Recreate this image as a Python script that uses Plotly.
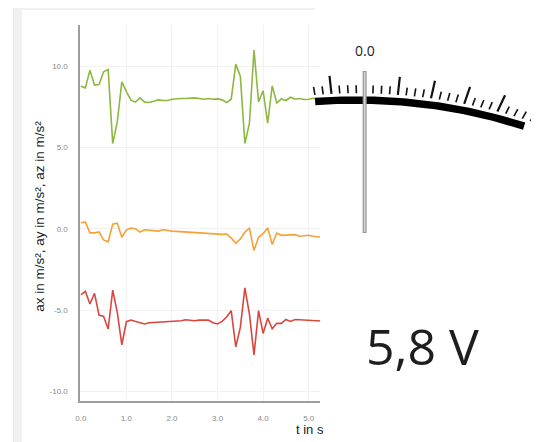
import numpy as np
import plotly.graph_objects as go

# ---------------- data ----------------
t_s = [0.0, 0.1, 0.2, 0.3, 0.4, 0.5, 0.6, 0.7, 0.8, 0.9,
       1.0, 1.1, 1.2, 1.3, 1.4, 1.5, 1.6, 1.7, 1.8, 1.9,
       2.0, 2.1, 2.2, 2.3, 2.4, 2.5, 2.6, 2.7, 2.8, 2.9,
       3.0, 3.1, 3.2, 3.3, 3.4, 3.5, 3.6, 3.7, 3.8, 3.9,
       4.0, 4.1, 4.2, 4.3, 4.4, 4.5, 4.6, 4.7, 4.8, 4.9,
       5.0, 5.1, 5.2, 5.3]

az = [8.78, 8.68, 9.77, 8.85, 8.89, 9.67, 9.81, 5.25, 6.58, 9.05,
      8.45, 7.92, 7.80, 8.06, 7.80, 7.78, 7.85, 7.94, 7.90, 7.90,
      7.98, 8.02, 8.02, 8.02, 8.04, 8.06, 8.02, 7.98, 8.02, 7.98,
      8.00, 7.94, 7.78, 7.98, 10.14, 9.40, 5.25, 6.50, 11.00, 7.82,
      8.50, 6.50, 8.80, 7.75, 8.00, 7.90, 8.10, 7.98, 8.02, 7.96,
      7.98, 8.04, 7.96, 8.00]

ay = [0.37, 0.41, -0.25, -0.25, -0.19, -0.68, -0.80, 0.28, 0.35, -0.52,
      -0.06, 0.04, 0.00, -0.20, -0.06, -0.10, -0.10, -0.14, -0.06, -0.12,
      -0.14, -0.16, -0.18, -0.22, -0.22, -0.26, -0.28, -0.30, -0.30, -0.32,
      -0.34, -0.34, -0.32, -0.56, -0.89, -0.62, -0.20, 0.04, -1.34, -0.52,
      -0.30, 0.06, -0.97, -0.26, -0.40, -0.38, -0.40, -0.36, -0.46, -0.44,
      -0.40, -0.46, -0.50, -0.46]

ax = [-4.07, -3.85, -4.63, -3.97, -5.31, -5.39, -6.17, -3.77, -5.15, -7.14,
      -5.72, -5.62, -5.70, -5.76, -5.86, -5.78, -5.76, -5.78, -5.74, -5.74,
      -5.70, -5.66, -5.66, -5.60, -5.62, -5.66, -5.62, -5.60, -5.62, -5.78,
      -5.86, -5.70, -5.43, -5.04, -7.27, -6.07, -3.64, -5.25, -7.76, -5.04,
      -6.44, -5.50, -6.15, -5.82, -5.82, -5.58, -5.70, -5.58, -5.60, -5.62,
      -5.66, -5.66, -5.68, -5.68]

x_tickvals = [0, 1, 2, 3, 4, 5]
x_ticktext = ["0.0", "1.0", "2.0", "3.0", "4.0", "5.0"]
y_tickvals = [-10, -5, 0, 5, 10]
y_ticktext = ["-10.0", "-5.0", "0.0", "5.0", "10.0"]

# gauge scale (value of each tick mark; integers are major ticks)
gauge_ticks = [-1.5, -1.25, -1.0, -0.75, -0.5, -0.25, 0.0, 0.25, 0.5, 0.75,
               1.0, 1.25, 1.5, 1.75, 2.0, 2.25, 2.5, 2.75, 3.0, 3.25,
               3.5, 3.75, 4.0, 4.25, 4.5, 4.75, 5.0]
needle_value = 0.0
needle_label = "0.0"
voltage_text = "5,8 V"

# ---------------- figure ----------------
# the page body has an 8px default margin: the figure starts at (8, 8)
OFF = 8
WIN_W, WIN_H = 539, 442
W, H = WIN_W - OFF, WIN_H - OFF


def px(x):
    return (x - OFF) / W


def py(y):
    return 1 - (y - OFF) / H


fig = go.Figure()

colors = {"az": "#8cb83f", "ay": "#f4a236", "ax": "#d9463f"}
for name, vals in (("az", az), ("ay", ay), ("ax", ax)):
    fig.add_trace(go.Scatter(x=t_s, y=vals, mode="lines", name=name,
                             line=dict(color=colors[name], width=1.6),
                             xaxis="x", yaxis="y", showlegend=False,
                             hoverinfo="skip"))

# ---- gauge (drawn on a window-pixel-space overlay axis) ----
CX, CY, RM = 355.0, 660.0, 560.0
THICK = 7.5
R_OUT, R_IN = RM + THICK / 2, RM - THICK / 2
PIV = np.array([363.0, 394.0])
PX_PER_UNIT = 33.5
X0 = 363.0


def val_to_x(v):
    return X0 + PX_PER_UNIT * v


th_l = np.arcsin((313 - CX) / RM)
th_r = np.arcsin((524 - CX) / RM)
th = np.linspace(th_l, th_r, 80)
arc_x = list(CX + R_OUT * np.sin(th)) + list(CX + R_IN * np.sin(th[::-1]))
arc_y = list(CY - R_OUT * np.cos(th)) + list(CY - R_IN * np.cos(th[::-1]))
fig.add_trace(go.Scatter(x=arc_x, y=arc_y, mode="lines", fill="toself",
                         fillcolor="#000000", line=dict(width=0, color="#000"),
                         xaxis="x2", yaxis="y2", showlegend=False, hoverinfo="skip"))

maj_x, maj_y, min_x, min_y = [], [], [], []
for v in gauge_ticks:
    xb = val_to_x(v)
    yb = CY - np.sqrt(R_OUT ** 2 - (xb - CX) ** 2) - 3.0
    base = np.array([xb, yb])
    d = base - PIV
    d = d / np.linalg.norm(d)
    major = abs(v - round(v)) < 1e-9
    L = 18.0 if major else 8.0
    top = base + L * d
    if major:
        maj_x += [base[0], top[0], None]
        maj_y += [base[1], top[1], None]
    else:
        min_x += [base[0], top[0], None]
        min_y += [base[1], top[1], None]

fig.add_trace(go.Scatter(x=min_x, y=min_y, mode="lines",
                         line=dict(color="#111", width=1.6),
                         xaxis="x2", yaxis="y2", showlegend=False, hoverinfo="skip"))
fig.add_trace(go.Scatter(x=maj_x, y=maj_y, mode="lines",
                         line=dict(color="#111", width=2.2),
                         xaxis="x2", yaxis="y2", showlegend=False, hoverinfo="skip"))

nx = val_to_x(needle_value)
fig.add_trace(go.Scatter(x=[nx, nx], y=[71, 233], mode="lines",
                         line=dict(color="#9a9a9a", width=4),
                         xaxis="x2", yaxis="y2", showlegend=False, hoverinfo="skip"))
fig.add_trace(go.Scatter(x=[nx, nx], y=[72, 232], mode="lines",
                         line=dict(color="#d6d6d6", width=1.4),
                         xaxis="x2", yaxis="y2", showlegend=False, hoverinfo="skip"))

# background panel (gray frame)
shapes = [
    dict(type="rect", xref="paper", yref="paper", x0=px(8), x1=px(313),
         y0=py(10), y1=py(8), fillcolor="#f0f1f3", line=dict(width=0), layer="below"),
    dict(type="rect", xref="paper", yref="paper", x0=px(8), x1=px(17),
         y0=py(442), y1=py(8), fillcolor="#f0f1f3", line=dict(width=0), layer="below"),
    dict(type="rect", xref="paper", yref="paper", x0=px(8), x1=px(9),
         y0=py(442), y1=py(8), fillcolor="#e6e7ea", line=dict(width=0), layer="below"),
]

annotations = [
    dict(text="ax in m/s², ay in m/s², az in m/s²", textangle=-90,
         xref="paper", yref="paper", x=px(35), y=py(216), xanchor="center",
         yanchor="middle", showarrow=False,
         font=dict(family="Arial, Liberation Sans", size=13.5, color="#222")),
    dict(text="t in s", xref="paper", yref="paper", x=px(291.5), y=py(429),
         xanchor="left", yanchor="middle", showarrow=False,
         font=dict(family="Arial, Liberation Sans", size=13, color="#222")),
    dict(text=needle_label, xref="paper", yref="paper", x=px(nx), y=py(51),
         xanchor="center", yanchor="middle", showarrow=False,
         font=dict(family="Open Sans", size=14, color="#222")),
    dict(text=voltage_text, xref="paper", yref="paper", x=px(421), y=py(346),
         xanchor="center", yanchor="middle", showarrow=False,
         font=dict(family="Open Sans", size=50, color="#1e1e1e")),
]

fig.update_layout(
    width=W, height=H,
    margin=dict(l=0, r=0, t=0, b=0),
    paper_bgcolor="white",
    plot_bgcolor="rgba(0,0,0,0)",
    showlegend=False,
    hovermode=False,
    shapes=shapes,
    annotations=annotations,
    xaxis=dict(domain=[px(76), px(318)], range=[-0.01, 5.25],
               tickvals=x_tickvals, ticktext=x_ticktext,
               showgrid=True, gridcolor="#f2f2f2", gridwidth=1,
               zeroline=False, showline=True, linecolor="#9e9e9e", linewidth=2,
               ticks="", ticklabelstandoff=8,
               tickfont=dict(family="Arial, Liberation Sans", size=8, color="#8a8a8a"),
               fixedrange=True),
    yaxis=dict(domain=[py(401.3), py(25)], range=[-10.62, 12.55],
               tickvals=y_tickvals, ticktext=y_ticktext,
               showgrid=True, gridcolor="#f2f2f2", gridwidth=1,
               zeroline=False, showline=True, linecolor="#9e9e9e", linewidth=2,
               ticks="", ticklabelstandoff=9,
               tickfont=dict(family="Arial, Liberation Sans", size=8, color="#8a8a8a"),
               fixedrange=True),
    xaxis2=dict(domain=[0, 1], range=[OFF, WIN_W], visible=False, fixedrange=True,
                anchor="y2"),
    yaxis2=dict(domain=[0, 1], range=[WIN_H, OFF], visible=False, fixedrange=True,
                anchor="x2"),
)

fig.write_html("out.html")
